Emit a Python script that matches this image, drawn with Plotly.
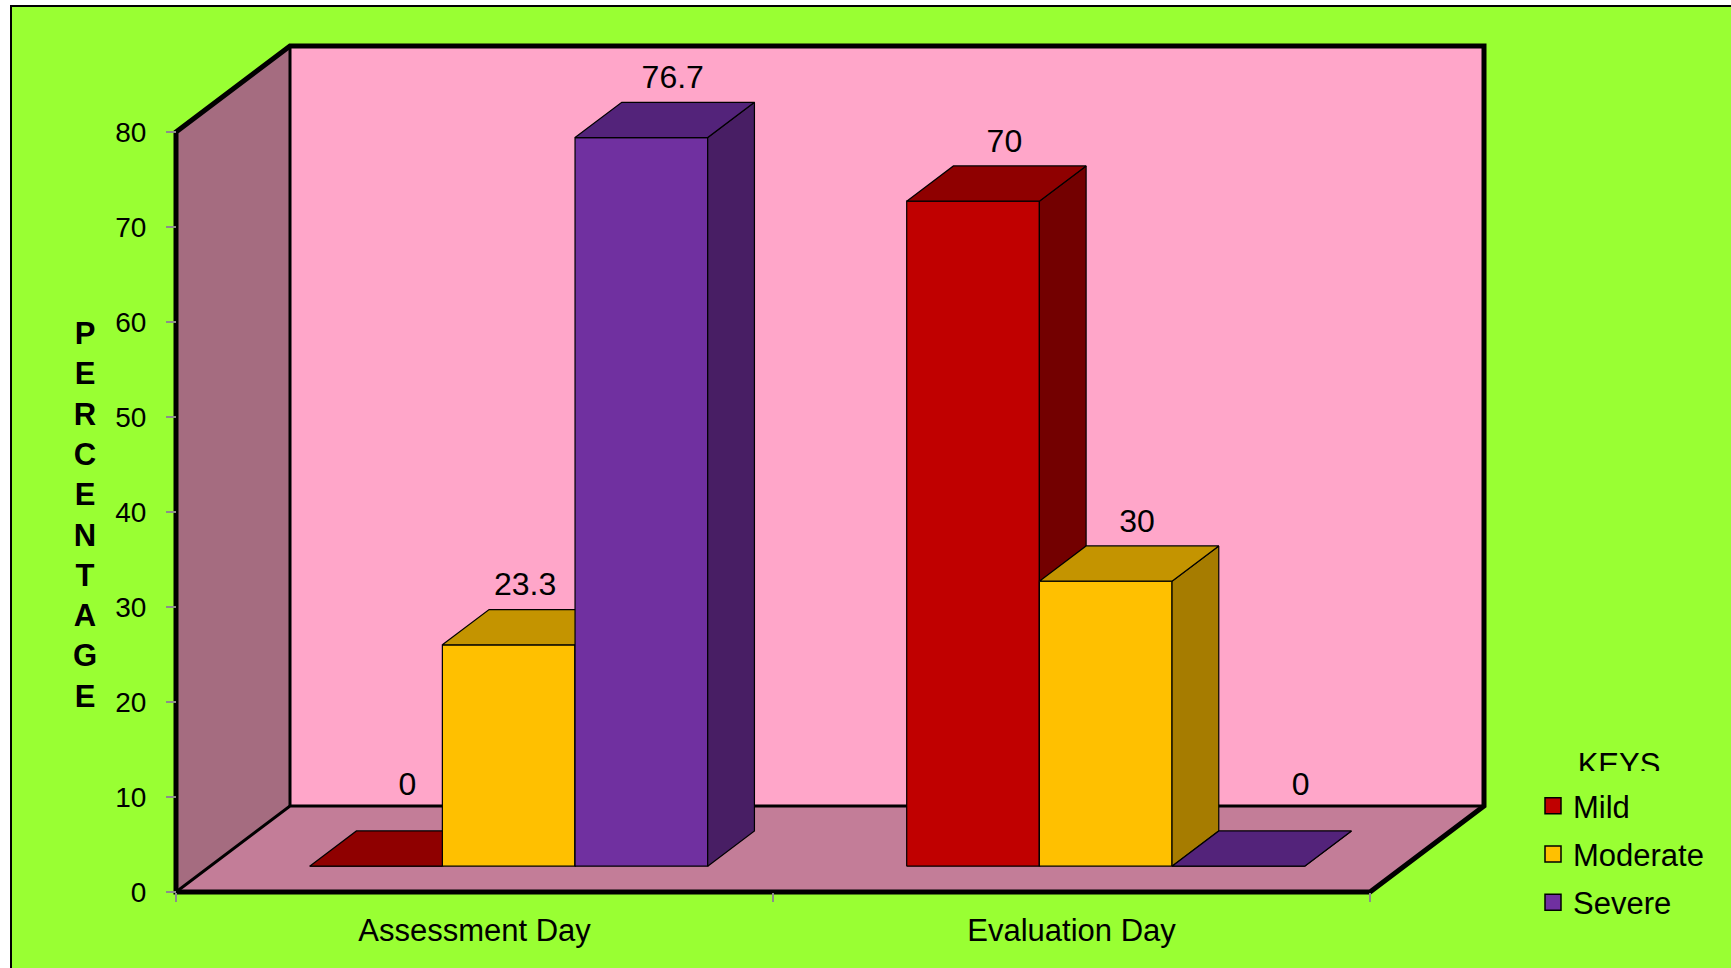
import plotly.graph_objects as go

# ---- data -------------------------------------------------------------
categories = ["Assessment Day", "Evaluation Day"]
series_names = ["Mild", "Moderate", "Severe"]
mild = [0, 70]
moderate = [23.3, 30]
severe = [76.7, 0]
y_ticks = [0, 10, 20, 30, 40, 50, 60, 70, 80]

# ---- styling ----------------------------------------------------------
FONT = "Liberation Sans, Arial, sans-serif"
GREEN = "#99FF33"
BACK_WALL = "#FFA6C9"
SIDE_WALL = "#A56C80"
FLOOR = "#C37D98"
FACE_COLORS = {              # front, top, side
    "Mild": ("#C00000", "#8F0000", "#730000"),
    "Moderate": ("#FFC000", "#C49400", "#A67C00"),
    "Severe": ("#7030A0", "#53237A", "#481E64"),
}
# horizontal nudges (px) for value labels that sit off-centre
LABEL_NUDGE_PX = {(0, "Moderate"): -15, (1, "Severe"): 31}

# ---- page / projection geometry ----------------------------------------
W, H = 1731, 968
X_LEFT_PX = 176        # left edge of the front plane
CAT_PX = 597           # width of one category on the front plane
Y0_PX = 892            # baseline of the front plane
UNIT_PX = 9.5          # pixels per percentage point
DEPTH_DX_PX = 114      # oblique depth offset of the back wall
DEPTH_DY_PX = 86
Y_MAX = 80

DX = DEPTH_DX_PX / CAT_PX
DY = DEPTH_DY_PX / UNIT_PX
x_range = [-0.5 - X_LEFT_PX / CAT_PX, -0.5 + (W - X_LEFT_PX) / CAT_PX]
y_range = [-(H - Y0_PX) / UNIT_PX, Y0_PX / UNIT_PX]

BAR_W = 2 / 9          # three bars per category, 50% gap
D_FRONT, D_BACK = 0.30, 0.71


def proj(x, y, d):
    """Oblique projection of (x, value, depth) into the 2-D axes."""
    return x + d * DX, y + d * DY


def poly(points):
    xs, ys = zip(*[proj(*p) for p in points])
    return list(xs) + [xs[0]], list(ys) + [ys[0]]


def path(points, close=True):
    pts = [proj(*p) for p in points]
    s = "M " + " L ".join(f"{x:.5f},{y:.5f}" for x, y in pts)
    return s + (" Z" if close else "")


fig = go.Figure()

# ---- chart frame: walls and floor -------------------------------------
L, R = -0.5, len(categories) - 0.5
shapes = [
    # page background
    dict(type="rect", xref="paper", yref="paper", x0=11 / W, x1=1.02,
         y0=-0.02, y1=1 - 6 / H, fillcolor=GREEN,
         line=dict(color="black", width=2), layer="below"),
    dict(type="path", path=path([(L, 0, 0), (L, Y_MAX, 0), (L, Y_MAX, 1), (L, 0, 1)]),
         fillcolor=SIDE_WALL, line=dict(width=0), layer="below"),
    dict(type="path", path=path([(L, 0, 1), (R, 0, 1), (R, Y_MAX, 1), (L, Y_MAX, 1)]),
         fillcolor=BACK_WALL, line=dict(width=0), layer="below"),
    dict(type="path", path=path([(L, 0, 0), (R, 0, 0), (R, 0, 1), (L, 0, 1)]),
         fillcolor=FLOOR, line=dict(width=0), layer="below"),
    # inner edges
    dict(type="path", path=path([(L, 0, 0), (L, 0, 1), (R, 0, 1)], close=False),
         line=dict(color="black", width=3), layer="below"),
    dict(type="path", path=path([(L, 0, 1), (L, Y_MAX, 1)], close=False),
         line=dict(color="black", width=3), layer="below"),
    # outer silhouette
    dict(type="path",
         path=path([(L, 0, 0), (L, Y_MAX, 0), (L, Y_MAX, 1), (R, Y_MAX, 1),
                    (R, 0, 1), (R, 0, 0)]),
         line=dict(color="black", width=5), layer="below"),
]
for s in shapes[1:]:
    s.update(xref="x", yref="y")

# ---- 3-D columns --------------------------------------------------------
values = {"Mild": mild, "Moderate": moderate, "Severe": severe}
label_x, label_y, label_text = [], [], []
for c in range(len(categories)):
    for s, name in enumerate(series_names):
        v = values[name][c]
        x0 = c - 1 / 3 + s * BAR_W
        x1 = x0 + BAR_W
        front, top, side = FACE_COLORS[name]
        faces = [
            (front, [(x0, 0, D_FRONT), (x1, 0, D_FRONT), (x1, v, D_FRONT), (x0, v, D_FRONT)]),
            (side, [(x1, 0, D_FRONT), (x1, 0, D_BACK), (x1, v, D_BACK), (x1, v, D_FRONT)]),
            (top, [(x0, v, D_FRONT), (x1, v, D_FRONT), (x1, v, D_BACK), (x0, v, D_BACK)]),
        ]
        for color, pts in faces:
            xs, ys = poly(pts)
            fig.add_trace(go.Scatter(
                x=xs, y=ys, mode="lines", fill="toself", fillcolor=color,
                line=dict(color="black", width=1.2), hoverinfo="skip",
                showlegend=False))
        mid = 0.5 * (D_FRONT + D_BACK)
        lx, ly = proj((x0 + x1) / 2, v, mid)
        gap_px = 40 if v > 0 else 62
        nudge = 8 + LABEL_NUDGE_PX.get((c, name), 0)
        label_x.append(lx + nudge / CAT_PX)
        label_y.append(ly + gap_px / UNIT_PX)
        label_text.append(f"{v:g}")

fig.add_trace(go.Scatter(
    x=label_x, y=label_y, text=label_text, mode="text",
    textposition="middle center",
    textfont=dict(family=FONT, size=32, color="black"),
    hoverinfo="skip", showlegend=False))

# ---- legend entries -----------------------------------------------------
for name in series_names:
    fig.add_trace(go.Scatter(
        x=[None], y=[None], mode="markers", name=name, legendgroup=name,
        marker=dict(symbol="square", size=16, color=FACE_COLORS[name][0],
                    line=dict(color="black", width=1.5))))

# legend heading, its lower edge hidden under the key rows
keys_x = -0.5 + (1619 - X_LEFT_PX) / CAT_PX
keys_y = (Y0_PX - 767) / UNIT_PX
fig.add_trace(go.Scatter(
    x=[keys_x], y=[keys_y], text=["KEYS"], mode="text",
    textposition="middle center",
    textfont=dict(family=FONT, size=31, color="black"),
    hoverinfo="skip", showlegend=False))
shapes.append(dict(type="rect", xref="paper", yref="paper",
                   x0=1560 / W, x1=1690 / W, y0=1 - 784 / H, y1=1 - 771 / H,
                   fillcolor=GREEN, line=dict(width=0), layer="above"))

fig.update_layout(
    width=W, height=H, autosize=False,
    margin=dict(l=0, r=0, t=0, b=0, pad=0),
    paper_bgcolor="white", plot_bgcolor="rgba(0,0,0,0)",
    shapes=shapes,
    font=dict(family=FONT, color="black"),
    xaxis=dict(
        range=x_range, domain=[0, 1], anchor="free",
        position=(H - Y0_PX) / H,
        tickmode="array", tickvals=list(range(len(categories))), ticktext=categories,
        ticks="", showgrid=False, zeroline=False, showline=False,
        tickfont=dict(family=FONT, size=31, color="black"),
        ticklabelstandoff=17,
        minor=dict(tickmode="array", tickvals=[L + i for i in range(len(categories) + 1)],
                   ticks="outside", ticklen=9, tickwidth=2, tickcolor="#8C8C8C",
                   showgrid=False),
        fixedrange=True,
    ),
    yaxis=dict(
        range=y_range, domain=[0, 1], anchor="free",
        position=X_LEFT_PX / W,
        tickmode="array", tickvals=y_ticks,
        ticks="outside", ticklen=10, tickwidth=2, tickcolor="#8C8C8C",
        showgrid=False, zeroline=False, showline=False,
        tickfont=dict(family=FONT, size=28, color="black"),
        ticklabelstandoff=14,
        fixedrange=True,
    ),
    legend=dict(
        x=1533 / W, y=1 - 779 / H, xanchor="left", yanchor="top",
        bgcolor="rgba(0,0,0,0)", borderwidth=0,
        font=dict(family=FONT, size=31, color="black"),
        tracegroupgap=5, itemsizing="trace",
    ),
    annotations=[dict(
        text="<br>".join("PERCENTAGE"), x=85 / W, y=1 - 515 / H,
        xref="paper", yref="paper", xanchor="center", yanchor="middle",
        showarrow=False, font=dict(family=FONT, size=31, color="black", weight="bold"),
    )],
)

fig.write_html("out.html", config={"displayModeBar": False})
